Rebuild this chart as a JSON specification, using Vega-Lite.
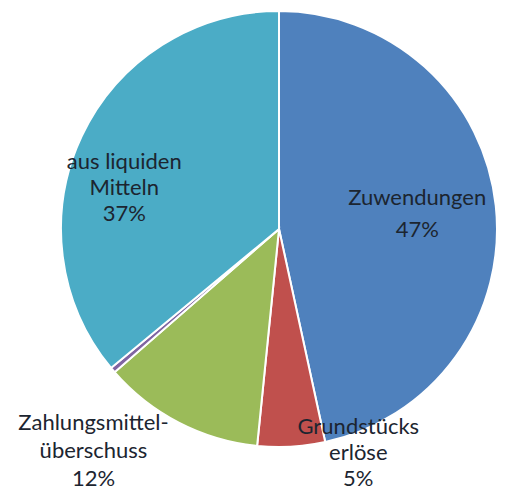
{
  "$schema": "https://vega.github.io/schema/vega-lite/v6.json",
  "width": 442,
  "height": 436,
  "autosize": "none",
  "padding": {"left": 58, "top": 11, "right": 16, "bottom": 45},
  "background": "white",
  "config": {"view": {"stroke": null}},
  "data": {
    "values": [
      {"idx": 1, "kategorie": "Zuwendungen", "anteil": 46.6, "label": "Zuwendungen\n47%"},
      {"idx": 2, "kategorie": "Grundstückserlöse", "anteil": 5.0, "label": "Grundstücks\nerlöse\n5%"},
      {"idx": 3, "kategorie": "Zahlungsmittelüberschuss", "anteil": 12.0, "label": "Zahlungsmittel-\nüberschuss\n12%"},
      {"idx": 4, "kategorie": "Sonstige", "anteil": 0.4, "label": ""},
      {"idx": 5, "kategorie": "aus liquiden Mitteln", "anteil": 36.0, "label": "aus liquiden\nMitteln\n37%"}
    ]
  },
  "encoding": {
    "theta": {"field": "anteil", "type": "quantitative", "stack": true},
    "order": {"field": "idx", "type": "quantitative"}
  },
  "layer": [
    {
      "mark": {"type": "arc", "stroke": "white", "strokeWidth": 2},
      "encoding": {
        "color": {
          "field": "kategorie",
          "type": "nominal",
          "scale": {
            "domain": ["Zuwendungen", "Grundstückserlöse", "Zahlungsmittelüberschuss", "Sonstige", "aus liquiden Mitteln"],
            "range": ["#4F81BD", "#C0504D", "#9BBB59", "#8064A2", "#4BACC6"]
          },
          "legend": null
        }
      }
    },
    {
      "mark": {"type": "text", "radius": 139, "dy": -16, "lineBreak": "\n", "font": "Lato", "fontSize": 22, "lineHeight": 32, "color": "#1c2530", "align": "center", "baseline": "middle"},
      "encoding": {
        "text": {"condition": {"test": "datum.idx === 1", "field": "label"}, "value": ""}
      }
    },
    {
      "mark": {"type": "text", "radius": 235, "dx": 66, "dy": -37, "lineBreak": "\n", "font": "Lato", "fontSize": 22, "lineHeight": 26, "color": "#1c2530", "align": "center", "baseline": "middle"},
      "encoding": {
        "text": {"condition": {"test": "datum.idx === 2", "field": "label"}, "value": ""}
      }
    },
    {
      "mark": {"type": "text", "radius": 260, "dx": -66, "dy": -37, "lineBreak": "\n", "font": "Lato", "fontSize": 22, "lineHeight": 28, "color": "#1c2530", "align": "center", "baseline": "middle"},
      "encoding": {
        "text": {"condition": {"test": "datum.idx === 3", "field": "label"}, "value": ""}
      }
    },
    {
      "mark": {"type": "text", "radius": 160, "dx": -10, "dy": 1, "lineBreak": "\n", "font": "Lato", "fontSize": 22, "lineHeight": 26, "color": "#1c2530", "align": "center", "baseline": "middle"},
      "encoding": {
        "text": {"condition": {"test": "datum.idx === 5", "field": "label"}, "value": ""}
      }
    }
  ]
}
